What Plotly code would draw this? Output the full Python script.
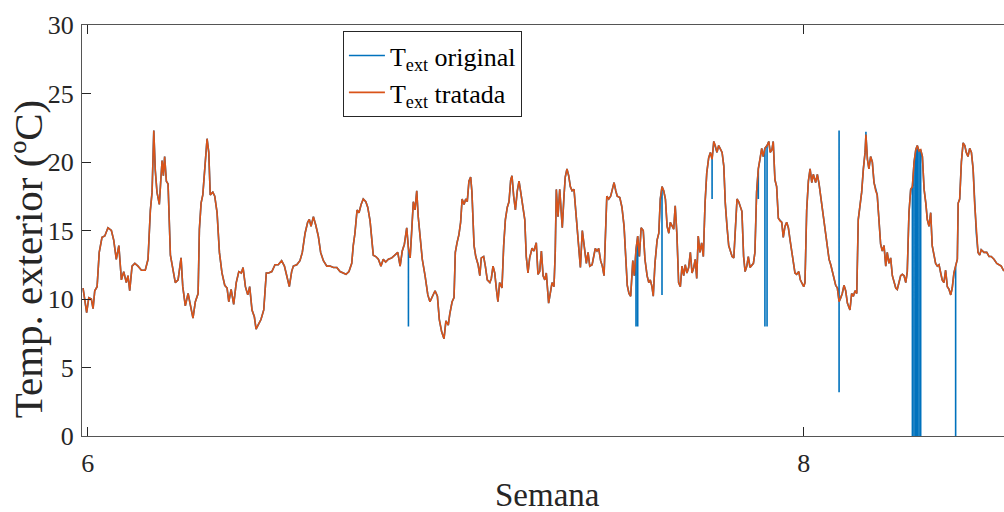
import numpy as np
import plotly.graph_objects as go

# Outdoor temperature, hours counted from the start of week 6
horas = [
    -2.2, -1.7, -0.5, 0.5, 1.7, 2.5, 3.3, 4.4, 5.4, 6.7,
    8.0, 9.5, 11.1, 12.2, 13.4, 14.6, 15.8, 16.9, 18.1, 18.9,
    19.7, 20.8, 22.1, 23.6, 25.2, 27.0, 28.3, 29.4, 30.2, 31.0,
    31.7, 32.5, 33.6, 34.3, 34.9, 35.5, 36.1, 36.9, 37.7, 38.8,
    39.9, 41.1, 42.4, 43.8, 44.6, 45.8, 47.1, 48.2, 49.4, 50.5,
    51.8, 52.4, 53.2, 54.0, 54.9, 56.0, 56.8, 57.5, 58.7, 59.6,
    60.7, 61.8, 63.0, 64.3, 65.4, 66.2, 67.3, 68.5, 69.7, 70.9,
    72.1, 72.9, 74.0, 75.1, 76.0, 77.1, 78.2, 79.0, 80.3, 81.3,
    82.6, 83.8, 84.9, 86.4, 87.9, 89.4, 91.0, 92.3, 93.4, 94.6,
    95.7, 96.5, 98.1, 99.6, 100.7, 102.0, 103.2, 104.0, 104.8, 105.9,
    107.0, 108.2, 109.3, 110.6, 112.2, 113.7, 115.3, 116.9, 118.4, 120.0,
    121.2, 122.6, 123.9, 124.6, 125.4, 126.4, 127.3, 128.3, 129.3, 130.5,
    131.4, 132.5, 133.3, 134.0, 135.2, 136.4, 137.6, 138.7, 139.8, 141.1,
    142.7, 144.2, 145.5, 146.6, 147.6, 148.6, 149.7, 150.5, 151.3, 152.0,
    152.8, 153.6, 154.4, 155.1, 155.9, 157.0, 158.3, 159.6, 160.6, 161.7,
    163.0, 164.1, 165.0, 166.1, 167.2, 168.1, 169.2, 169.9, 171.0, 171.9,
    172.5, 173.3, 174.2, 175.0, 175.7, 176.6, 177.4, 178.1, 178.9, 179.7,
    180.3, 181.3, 182.1, 183.2, 184.0, 184.7, 185.8, 186.6, 187.5, 188.7,
    189.4, 190.2, 191.0, 191.8, 192.5, 193.3, 194.4, 195.2, 196.0, 196.9,
    197.7, 198.5, 199.1, 199.9, 200.7, 201.6, 202.4, 203.2, 204.1, 205.1,
    205.8, 206.6, 207.4, 208.5, 209.4, 210.5, 211.3, 212.1, 212.9, 213.7,
    214.5, 215.2, 216.3, 217.1, 217.9, 218.8, 219.4, 219.9, 220.7, 221.5,
    222.0, 222.7, 223.5, 224.1, 224.9, 225.7, 226.5, 227.3, 228.2, 228.8,
    229.8, 230.6, 231.2, 232.1, 233.2, 234.0, 234.8, 235.6, 236.7, 237.5,
    238.2, 239.0, 239.8, 240.7, 241.5, 242.3, 242.9, 243.6, 244.5, 245.4,
    246.2, 247.0, 247.8, 248.5, 249.7, 250.7, 251.7, 252.5, 253.2, 254.0,
    254.8, 255.8, 256.5, 257.3, 258.1, 258.9, 259.7, 260.7, 261.5, 262.5,
    263.3, 264.0, 264.8, 265.4, 266.2, 267.2, 268.0, 268.7, 269.5, 270.3,
    271.1, 271.9, 272.7, 273.4, 274.2, 275.0, 275.7, 276.5, 277.3, 278.1,
    278.9, 279.7, 280.4, 281.2, 282.0, 282.8, 283.6, 284.4, 285.1, 285.8,
    286.5, 287.3, 288.1, 288.9, 289.7, 290.5, 291.4, 292.2, 293.0, 293.8,
    294.5, 295.3, 296.1, 296.9, 297.7, 298.5, 299.2, 300.0, 300.8, 301.6,
    302.4, 303.2, 303.9, 304.7, 305.5, 306.3, 307.0, 307.8, 308.5, 309.3,
    310.0, 310.8, 311.6, 312.4, 313.1, 313.9, 314.7, 315.5, 316.3, 317.0,
    317.8, 318.8, 319.6, 320.3, 321.1, 321.7, 322.5, 323.3, 324.1, 324.9,
    325.7, 326.4, 327.2, 328.0, 328.8, 329.6, 330.4, 331.1, 331.9, 332.7,
    333.7, 334.4, 335.2, 336.0, 336.6, 337.4, 338.2, 339.0, 339.8, 340.5,
    341.6, 342.4, 343.2, 344.0, 344.7, 345.5, 346.3, 347.1, 347.9, 348.7,
    349.4, 350.2, 351.0, 351.8, 352.6, 353.4, 354.1, 354.9, 355.7, 356.5,
    357.7, 358.5, 359.3, 360.1, 360.9, 361.6, 362.4, 363.2, 364.0, 364.8,
    365.2, 365.9, 366.6, 367.4, 368.2, 369.0, 369.8, 370.5, 371.3, 372.1,
    372.9, 373.7, 374.5, 375.2, 376.0, 376.8, 377.6, 378.4, 379.2, 379.9,
    380.7, 381.5, 382.3, 383.1, 383.9, 384.6, 385.4, 386.2, 387.0, 387.8,
    388.6, 389.3, 390.1, 390.9, 391.7, 392.5, 393.3, 394.0, 394.8, 395.6,
    396.3, 397.1, 397.9, 398.7, 399.5, 400.3, 401.0, 401.8, 402.6, 403.4,
    404.2, 405.0, 405.7, 406.5, 407.3, 408.1, 408.5, 409.2, 410.0, 410.8,
    411.6, 412.3, 413.1, 413.9, 414.7, 415.5, 416.2, 417.0, 417.8, 418.6,
    419.3, 420.6, 421.9, 423.0, 424.0, 425.3, 426.6, 427.7, 428.7, 429.7,
    430.9,
]

# Cleaned outdoor temperature (ºC)
temp_tratada = [
    10.8, 10.2, 9.0, 10.1, 10.0, 9.3, 10.6, 10.9, 13.4, 14.5,
    14.6, 15.2, 15.0, 14.3, 12.9, 13.9, 11.4, 12.0, 11.2, 11.7,
    10.6, 12.4, 12.6, 12.4, 12.1, 12.1, 12.9, 16.5, 17.8, 22.3,
    19.4, 17.8, 16.9, 18.7, 20.1, 19.0, 20.4, 18.6, 18.4, 13.2,
    12.1, 11.2, 11.4, 13.0, 10.9, 9.5, 10.4, 9.5, 8.6, 9.8,
    10.4, 15.1, 17.0, 17.6, 19.2, 21.7, 20.7, 17.6, 17.8, 17.5,
    16.3, 13.4, 11.9, 11.0, 10.8, 9.8, 10.7, 9.6, 11.2, 12.0,
    11.9, 12.3, 10.9, 10.3, 10.9, 9.2, 8.7, 7.8, 8.2, 8.5,
    9.2, 11.9, 11.9, 12.0, 12.5, 12.5, 12.8, 12.4, 11.7, 10.9,
    12.0, 12.4, 12.5, 12.8, 13.4, 14.8, 15.6, 15.8, 15.3, 16.0,
    15.4, 14.6, 13.4, 12.8, 12.4, 12.4, 12.3, 12.3, 12.0, 11.9,
    11.8, 12.0, 12.6, 13.9, 14.8, 16.5, 16.3, 16.9, 17.3, 17.1,
    16.7, 15.7, 14.3, 13.2, 13.1, 12.9, 12.4, 12.9, 12.7, 12.9,
    13.0, 13.2, 13.4, 12.4, 13.5, 14.0, 15.2, 13.7, 13.0, 14.8,
    17.1, 16.5, 17.9, 16.0, 14.6, 12.9, 11.7, 10.3, 9.8, 10.2,
    10.6, 10.2, 8.5, 7.6, 7.1, 8.4, 8.1, 8.9, 9.8, 10.1,
    13.4, 14.1, 14.7, 15.6, 17.3, 16.9, 17.3, 17.1, 18.6, 18.9,
    17.8, 13.9, 13.1, 12.5, 11.7, 13.0, 13.1, 12.4, 11.4, 11.2,
    11.5, 12.4, 11.9, 10.7, 9.8, 11.2, 10.8, 13.9, 15.8, 16.7,
    17.1, 18.7, 19.0, 17.5, 16.5, 17.9, 18.6, 17.8, 17.0, 15.8,
    13.1, 11.9, 13.0, 13.7, 13.5, 14.1, 11.8, 12.0, 13.5, 11.7,
    11.4, 11.9, 9.7, 10.4, 11.2, 10.9, 13.4, 18.0, 16.0, 18.0,
    16.5, 15.2, 17.5, 18.9, 19.5, 19.0, 18.2, 17.9, 18.0, 16.8,
    15.3, 13.1, 12.3, 15.0, 13.7, 12.6, 13.4, 12.4, 12.5, 13.1,
    13.7, 13.5, 13.7, 12.8, 12.4, 11.7, 15.1, 17.5, 17.3, 17.5,
    18.0, 18.5, 17.9, 17.5, 17.4, 16.7, 15.3, 12.9, 11.0, 10.4,
    10.2, 12.8, 11.7, 13.6, 14.6, 13.1, 15.2, 15.0, 12.9, 11.7,
    11.2, 11.4, 10.9, 10.2, 12.6, 14.3, 14.8, 17.3, 18.2, 17.9,
    17.3, 15.3, 14.8, 15.6, 15.3, 15.1, 16.8, 14.7, 11.2, 10.9,
    12.4, 11.7, 12.5, 11.9, 12.3, 13.4, 11.9, 12.3, 12.9, 11.5,
    14.6, 13.4, 14.1, 13.1, 17.0, 19.2, 20.3, 20.7, 20.2, 21.5,
    21.2, 20.7, 21.2, 20.9, 20.7, 19.7, 17.0, 15.3, 13.9, 13.5,
    13.1, 13.0, 15.3, 17.3, 17.1, 16.8, 16.4, 13.1, 12.0, 12.4,
    13.1, 12.3, 12.5, 12.6, 13.4, 17.8, 19.5, 20.2, 21.0, 20.4,
    21.0, 21.2, 21.5, 20.7, 20.9, 21.5, 18.7, 18.2, 15.9, 15.7,
    15.6, 14.5, 15.3, 15.6, 15.2, 14.3, 13.5, 12.6, 11.9, 11.8,
    12.0, 11.4, 11.2, 10.9, 11.2, 16.5, 18.6, 19.5, 18.5, 19.1,
    18.5, 19.1, 18.4, 17.4, 16.8, 15.6, 14.6, 13.9, 12.9, 12.5,
    12.0, 11.4, 11.0, 10.8, 9.8, 10.1, 10.4, 11.0, 10.6, 9.7,
    9.2, 10.4, 10.2, 10.6, 10.4, 15.8, 16.8, 17.8, 19.5, 20.7,
    22.0, 20.2, 19.5, 20.4, 20.0, 18.5, 17.9, 17.6, 15.8, 14.0,
    13.5, 13.9, 12.4, 13.4, 12.6, 13.0, 11.7, 11.2, 10.8, 10.7,
    11.3, 11.7, 11.8, 11.7, 11.2, 12.0, 16.3, 18.0, 18.2, 20.0,
    20.9, 21.2, 20.8, 20.9, 20.4, 18.0, 17.0, 15.8, 15.3, 16.3,
    13.9, 13.1, 12.6, 12.4, 12.5, 11.9, 11.4, 11.2, 12.1, 10.9,
    10.7, 10.3, 10.8, 11.9, 12.4, 12.9, 17.0, 17.3, 20.0, 21.4,
    21.2, 20.7, 20.4, 21.0, 20.7, 19.5, 17.0, 14.8, 13.4, 13.2,
    13.6, 13.4, 13.4, 13.1, 13.1, 12.9, 12.6, 12.5, 12.4, 12.1,
    12.0,
]

# Faulty readings present only in the raw record
horas_atipicas = [150.5, 257.3, 258.1, 269.5, 293.0, 314.7, 317.8, 318.8,
                  352.6, 352.6, 365.2, 387.0, 387.8, 388.6, 389.3, 390.1,
                  390.9, 407.3]
temp_atipica = [8.0, 8.0, 8.0, 10.3, 17.3, 17.3, 8.0, 8.0,
                22.3, 3.2, 22.2, 0.0, 0.0, 0.0, 0.0, 0.0,
                0.0, 0.0]

ticks_semana = [6, 8]
ticks_temp = [0, 5, 10, 15, 20, 25, 30]

AZUL = "#0072BD"
NARANJA = "#D95319"
EJES = "#262626"
FUENTE = "Liberation Serif, Times New Roman, serif"

h_arr = np.array(horas)
semana = [6 + h / 168 for h in horas]

# Raw series: each faulty reading sits at its own sample time
lecturas = {}
for h, v in zip(horas_atipicas, temp_atipica):
    i = int(np.argmin(np.abs(h_arr - h)))
    lecturas.setdefault(i, []).append(v)

x_orig, y_orig = [], []
for i, (s, v) in enumerate(zip(semana, temp_tratada)):
    x_orig.append(s)
    y_orig.append(v)
    if i in lecturas:
        for a in lecturas[i]:
            x_orig.append(s)
            y_orig.append(a)
        x_orig.append(s)
        y_orig.append(v)

fig = go.Figure()
fig.add_trace(go.Scatter(
    x=x_orig, y=y_orig, mode="lines",
    line=dict(color=AZUL, width=1.6),
    name="T<sub>ext</sub> original",
))
fig.add_trace(go.Scatter(
    x=semana, y=temp_tratada, mode="lines",
    line=dict(color=NARANJA, width=1.6),
    name="T<sub>ext</sub> tratada",
))

fig.update_layout(
    width=1004, height=512,
    margin=dict(l=82, r=0, t=25, b=76),
    paper_bgcolor="white", plot_bgcolor="white",
    font=dict(family=FUENTE, size=26, color=EJES),
    showlegend=True,
    legend=dict(
        x=0.283, y=0.985, xanchor="left", yanchor="top",
        bgcolor="white", bordercolor=EJES, borderwidth=1,
        font=dict(family=FUENTE, size=26, color="black"),
        tracegroupgap=0, itemwidth=36,
    ),
    xaxis=dict(
        range=[5.984, 8.5595],
        tickvals=ticks_semana, ticktext=[str(t) for t in ticks_semana],
        ticks="inside", ticklen=9, tickwidth=1, tickcolor=EJES,
        showline=True, linecolor="#555555", linewidth=1, mirror="ticks",
        showgrid=False, zeroline=False, ticklabelstandoff=4,
        tickfont=dict(family=FUENTE, size=26, color=EJES),
    ),
    yaxis=dict(
        range=[0, 30],
        tickvals=ticks_temp, ticktext=[str(t) for t in ticks_temp],
        ticks="inside", ticklen=9, tickwidth=1, tickcolor=EJES,
        showline=True, linecolor="#555555", linewidth=1,
        showgrid=False, zeroline=False, ticklabelstandoff=2,
        tickfont=dict(family=FUENTE, size=26, color=EJES),
    ),
    annotations=[
        dict(text="Semana", xref="paper", yref="paper",
             x=0.5054, y=-0.1436, xanchor="center", yanchor="middle",
             showarrow=False, font=dict(family=FUENTE, size=33, color=EJES)),
        dict(text="Temp. exterior (ºC)", xref="paper", yref="paper",
             x=-0.0586, y=0.43, xanchor="center", yanchor="middle",
             textangle=-90, showarrow=False,
             font=dict(family=FUENTE, size=41, color=EJES)),
    ],
)

fig.write_html("out.html")
